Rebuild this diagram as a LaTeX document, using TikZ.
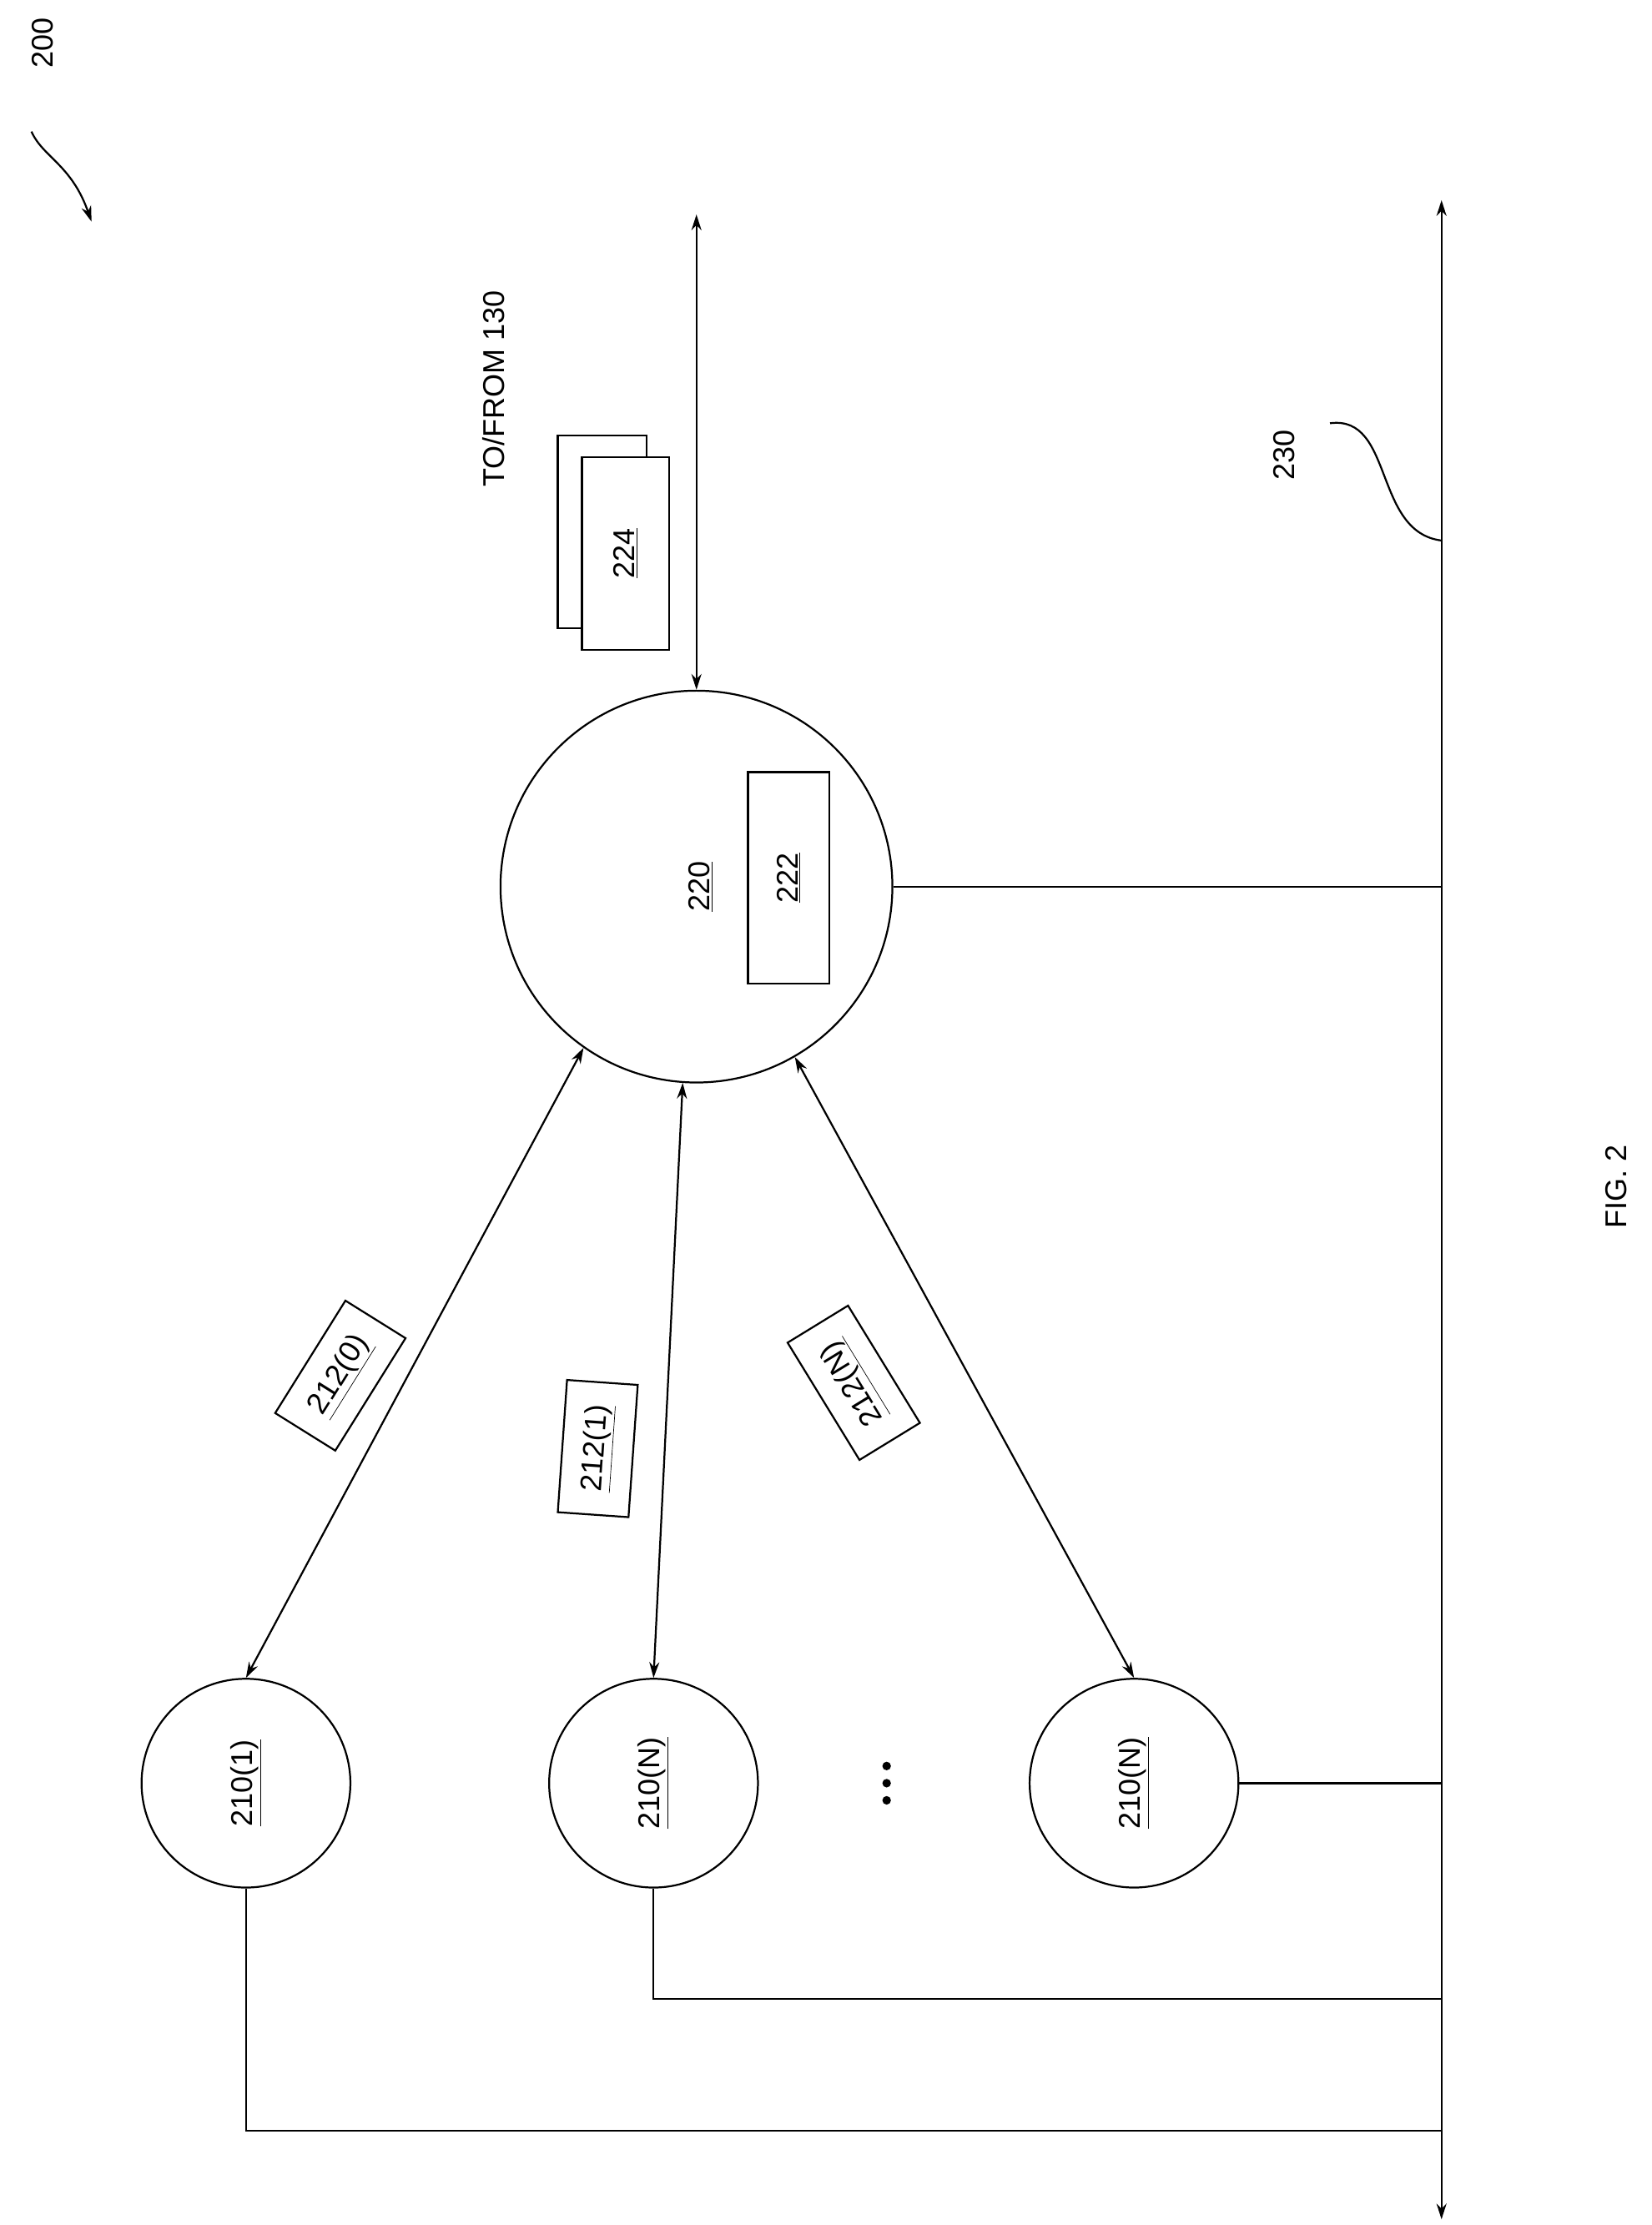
\documentclass[tikz,border=0pt]{standalone}
\usepackage{fontspec}
\setmainfont{Liberation Sans}
\usetikzlibrary{arrows.meta}
\begin{document}
\begin{tikzpicture}[x=1pt,y=-1pt,
  lw/.style={line width=1.3pt},
  big/.style={draw,lw,circle,minimum size=274pt,inner sep=0pt},
  small/.style={draw,lw,circle,minimum size=146pt,inner sep=0pt},
  txt/.style={font=\fontsize{21}{25}\selectfont,rotate=90,inner sep=1pt},
  lbl/.style={draw,lw,font=\fontsize{21}{25}\selectfont,inner xsep=16pt,inner ysep=14pt,fill=white},
  arr/.style={lw,{Stealth[length=11pt,width=7pt]}-{Stealth[length=11pt,width=7pt]}}]
\useasboundingbox (0,0) rectangle (1155,1556);
\node[txt] (n200) at (30,30) {200};
\draw[lw,-{Stealth[length=11pt,width=7pt]}] (22,92) .. controls (30,110) and (50,115) .. (64,155);
\node[big] (c220) at (487,620) {};
\node[txt] (t220) at (490,620) {\underline{220}};
\node[draw,lw,minimum width=57pt,minimum height=148pt] (r222) at (551.5,614) {};
\node[txt] at (r222) {\underline{222}};
\node[draw,lw,fill=white,minimum width=62pt,minimum height=135pt] (r224b) at (421,372) {};
\node[draw,lw,fill=white,minimum width=61pt,minimum height=135pt] (r224) at (437.5,387) {};
\node[txt] at (r224) {\underline{224}};
\node[txt] (tf) at (345,272) {TO/FROM 130};
\coordinate (top) at (487,150);
\draw[arr] (top) -- (c220.north);
\coordinate (bt) at (1008,140);
\coordinate (bb) at (1008,1552);
\draw[arr] (bt) -- (bb);
\node[txt] (n230) at (898,318) {230};
\coordinate (b230) at (1008,378);
\draw[lw] (930,296) .. controls (975,290) and (960,372) .. (b230);
\coordinate (b620) at (1008,620);
\draw[lw] (c220.east) -- (b620);
\node[small] (s1) at (172,1247) {};
\node[txt] at (s1) {\underline{210(1)}};
\node[small] (s2) at (457,1247) {};
\node[txt] at (s2) {\underline{210(N)}};
\node[small] (s3) at (793,1247) {};
\node[txt] at (s3) {\underline{210(N)}};
\foreach \y in {1235,1247,1259} \fill (620,\y) circle (3pt);
\coordinate (b1247) at (1008,1247);
\coordinate (b1398) at (1008,1398);
\coordinate (b1490) at (1008,1490);
\draw[lw] (s3.east) -- (b1247);
\draw[lw] (s2.south) -- (457,1398) -- (b1398);
\draw[lw] (s1.south) -- (172,1490) -- (b1490);
\draw[arr] (c220.235) -- (s1.north);
\draw[arr] (c220.266) -- (s2.north);
\draw[arr] (c220.300) -- (s3.north);
\node[lbl,rotate=58] at (238,962) {\underline{212(0)}};
\node[lbl,rotate=86] at (418,1013) {\underline{212(1)}};
\node[lbl,rotate=121.5] at (597,967) {\underline{212(N)}};
\node[txt] (fig) at (1130,830) {FIG. 2};
\end{tikzpicture}
\end{document}
